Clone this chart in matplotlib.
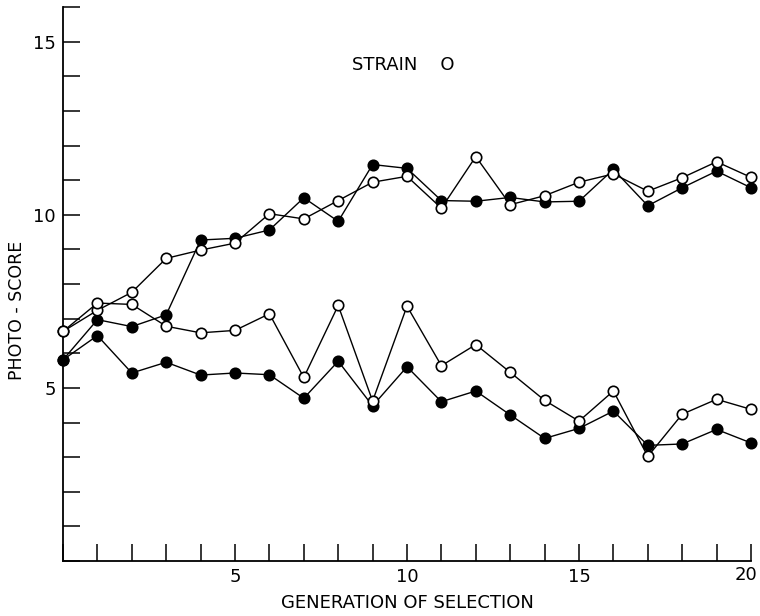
import matplotlib
matplotlib.use("Agg")
import matplotlib.pyplot as plt
from matplotlib.ticker import MultipleLocator, FuncFormatter

# generation of selection
gens = list(range(0, 21))

# photo-score, strain O, selected upward (high lines) and downward (low lines)
up_open = [6.63, 7.24, 7.76, 8.74, 8.98, 9.18, 10.03, 9.88, 10.41, 10.94, 11.11,
           10.19, 11.68, 10.29, 10.55, 10.94, 11.18, 10.68, 11.07, 11.53, 11.08]
up_filled = [5.81, 6.97, 6.77, 7.11, 9.27, 9.32, 9.56, 10.49, 9.81, 11.45, 11.34,
             10.41, 10.39, 10.50, 10.37, 10.39, 11.31, 10.26, 10.78, 11.26, 10.78]
down_open = [6.63, 7.45, 7.41, 6.78, 6.59, 6.66, 7.14, 5.30, 7.38, 4.62, 7.36,
             5.64, 6.25, 5.45, 4.64, 4.04, 4.91, 3.02, 4.24, 4.67, 4.38]
down_filled = [5.81, 6.51, 5.43, 5.74, 5.37, 5.43, 5.38, 4.70, 5.77, 4.48, 5.61,
               4.60, 4.91, 4.22, 3.54, 3.83, 4.33, 3.34, 3.38, 3.80, 3.41]

plt.rcParams['font.family'] = ['DejaVu Sans']

fig = plt.figure(figsize=(7.6, 6.16), dpi=100)
ax = fig.add_axes([63 / 760, 55 / 616, 688 / 760, 554 / 616])

for ys, fc in [(up_filled, 'black'), (down_filled, 'black'),
               (up_open, 'white'), (down_open, 'white')]:
    ax.plot(gens, ys, color='black', lw=1.0, marker='o', ms=7.5,
            mfc=fc, mec='black', mew=1.2, clip_on=False, zorder=3)

xmax = gens[-1]
# no "0" labels; the last x label is drawn separately so it stays inside
x_fmt = FuncFormatter(lambda v, pos: '' if v in (0, xmax) else '%d' % v)
y_fmt = FuncFormatter(lambda v, pos: '' if v == 0 else '%d' % v)

ax.set_xlim(0, xmax)
ax.set_ylim(0, 16)
ax.xaxis.set_major_locator(MultipleLocator(5))
ax.xaxis.set_minor_locator(MultipleLocator(1))
ax.yaxis.set_major_locator(MultipleLocator(5))
ax.yaxis.set_minor_locator(MultipleLocator(1))
ax.xaxis.set_major_formatter(x_fmt)
ax.yaxis.set_major_formatter(y_fmt)
ax.tick_params(which='both', direction='in', length=12, width=1.1,
               labelsize=13, pad=5)
ax.tick_params(axis='x', which='both', top=False)
ax.tick_params(axis='y', which='both', right=False)

ax.annotate('%d' % xmax, xy=(xmax, 0), xytext=(4.5, -3.6),
            textcoords='offset points', ha='right', va='top',
            fontsize=13, annotation_clip=False)

for side in ['top', 'right']:
    ax.spines[side].set_visible(False)
for side in ['left', 'bottom']:
    ax.spines[side].set_linewidth(1.3)

ax.set_xlabel('GENERATION OF SELECTION', fontsize=13, labelpad=6)
ax.set_ylabel('PHOTO - SCORE', fontsize=12.5)
ax.yaxis.set_label_coords(-0.054, 0.453)

ax.text(0.495, 0.895, 'STRAIN    O', transform=ax.transAxes,
        ha='center', va='center', fontsize=13)

fig.savefig('out.png', dpi=100)
